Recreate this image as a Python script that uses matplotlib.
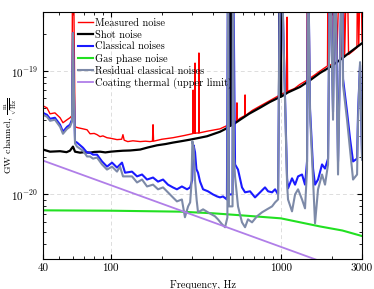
import numpy as np
import matplotlib
matplotlib.use('Agg')
import matplotlib.pyplot as plt

plt.rcParams['font.family'] = 'serif'
plt.rcParams['font.serif'] = ['cmr10', 'DejaVu Serif']
plt.rcParams['mathtext.fontset'] = 'cm'
plt.rcParams['axes.unicode_minus'] = False

TOP = 1e-18  # lines / spikes leaving the plot

# Shot noise
shot_f = [40, 44, 50.4, 55, 57.6, 60, 61.7, 66, 70, 75.6, 80, 86.5, 93, 100, 108, 118, 130, 149, 165, 187,
          210, 232, 260, 293, 330, 368, 400, 439, 470, 490, 496, 502, 508, 514, 520, 526, 576, 650, 754,
          860, 940, 975, 982, 990, 998, 1005, 1100, 1296, 1500, 1699, 1950, 2227, 2600, 3000]
shot_v = [2.31e-20, 2.22e-20, 2.24e-20, 2.2e-20, 2.26e-20, 2.44e-20, 2.22e-20, 2.18e-20, 2.2e-20, 2.18e-20,
          2.21e-20, 2.22e-20, 2.19e-20, 2.22e-20, 2.24e-20, 2.26e-20, 2.27e-20, 2.31e-20, 2.4e-20, 2.5e-20,
          2.56e-20, 2.63e-20, 2.7e-20, 2.78e-20, 2.87e-20, 2.96e-20, 3.08e-20, 3.22e-20, 3.38e-20, 3.5e-20,
          TOP, 3.58e-20, TOP, 3.62e-20, TOP, 3.7e-20, 4.03e-20, 4.5e-20, 5.04e-20,
          5.6e-20, 5.95e-20, 6.1e-20, TOP, 6.15e-20, TOP, 6.2e-20, 6.7e-20, 7.43e-20, 8.5e-20, 9.64e-20,
          1.08e-19, 1.23e-19, 1.45e-19, 1.68e-19]

# Measured noise
meas_f = [40, 42.2, 44, 47, 50.4, 52.4, 55.4, 57.6, 59.2, 59.7, 60.3, 61.7, 64.2, 68.7, 72.6, 75.6, 80,
          83.1, 86.5, 90, 95.1, 100, 108.9, 116, 118, 120, 126, 135, 149, 160, 170, 176, 177.3, 178.6,
          200, 232, 270, 301, 304, 305, 306, 312, 313, 314, 329, 330, 331, 368, 439, 480, 500, 540, 551,
          552, 553, 576, 614, 616, 618, 680, 754, 870, 989, 1080, 1088, 1096, 1200, 1296, 1420, 1430,
          1445, 1460, 1475, 1600, 1699, 1880, 1894, 1910, 2020, 2040, 2060, 2100, 2130, 2230, 2260,
          2320, 2370, 2450, 2500, 2650, 2800, 2830, 2870, 2950, 3000]
meas_v = [5.22e-20, 5.03e-20, 4.5e-20, 4.58e-20, 4.18e-20, 3.81e-20, 4.03e-20, 4.18e-20, 4.34e-20, TOP,
          TOP, 3.53e-20, 3.47e-20, 3.4e-20, 3.34e-20, 3.1e-20, 3.12e-20, 3.05e-20, 2.94e-20, 2.98e-20,
          2.88e-20, 2.85e-20, 2.78e-20, 2.8e-20, 3.05e-20, 2.75e-20, 2.68e-20, 2.72e-20, 2.68e-20, 2.7e-20,
          2.68e-20, 2.7e-20, 3.67e-20, 2.7e-20, 2.8e-20, 2.88e-20, 3.0e-20, 3.1e-20, 3.12e-20, 7.0e-20,
          3.12e-20, 3.14e-20, 1.16e-19, 3.14e-20, 3.15e-20, 1.4e-19, 3.15e-20, 3.25e-20, 3.4e-20, 3.6e-20,
          3.8e-20, 3.9e-20, 3.95e-20, 5.52e-20, 3.95e-20, 4.15e-20, 4.35e-20, 6.4e-20, 4.35e-20, 4.8e-20,
          5.2e-20, 5.8e-20, 6.4e-20, 6.8e-20, 2.73e-19, 6.85e-20, 7.2e-20, 7.8e-20, 8.4e-20, TOP,
          8.5e-20, TOP, 8.7e-20, 9.4e-20, 1.0e-19, 1.1e-19, TOP, 1.1e-19, 1.15e-19, TOP, 1.17e-19, TOP,
          1.2e-19, TOP, 1.27e-19, TOP, 1.3e-19, TOP, 1.36e-19, 1.45e-19, 1.55e-19, TOP, 1.6e-19, TOP,
          1.75e-19]

# Classical noises
cls_f = [40, 42.2, 44, 47, 50.4, 52.4, 55.4, 57.6, 59.2, 60.0, 60.9, 61.7, 63.4, 68.7, 72.6, 75.6, 78.7,
         83.1, 88.9, 95.1, 101.8, 108.9, 116.5, 121.4, 133.4, 142.8, 152.8, 163.5, 177.3, 189.7, 203, 217,
         232, 245, 262, 281, 293, 301, 307, 313, 319, 326, 335, 349, 373, 399, 422, 439, 457, 482, 489,
         495, 520, 524, 538, 560, 591, 616, 659, 705, 734, 807, 841, 888, 925, 963, 990, 1005, 1088,
         1102, 1163, 1212, 1262, 1332, 1387, 1425, 1445, 1484, 1546, 1588, 1654, 1746, 1818, 1894, 1945,
         2026, 2082, 2168, 2289, 2320, 2449, 2550, 2657, 2805, 2843, 2920, 3000]
cls_v = [4.58e-20, 4.42e-20, 4.1e-20, 4.18e-20, 3.67e-20, 3.22e-20, 3.53e-20, 3.67e-20, 4.03e-20, 2.03e-19,
         6.0e-20, 2.68e-20, 2.63e-20, 2.39e-20, 2.18e-20, 2.18e-20, 2.1e-20, 2.1e-20, 1.85e-20, 1.68e-20,
         1.81e-20, 1.65e-20, 1.81e-20, 1.5e-20, 1.53e-20, 1.4e-20, 1.45e-20, 1.32e-20, 1.37e-20, 1.27e-20,
         1.32e-20, 1.2e-20, 1.14e-20, 1.1e-20, 1.16e-20, 1.1e-20, 1.14e-20, 1.3e-20, 2.5e-20, 2.2e-20,
         1.6e-20, 1.5e-20, 1.27e-20, 1.1e-20, 1.06e-20, 1.0e-20, 9.63e-21, 9.46e-21, 9.63e-21, 9.1e-21,
         TOP, 1.0e-20, 1.0e-20, TOP, 1.75e-20, 1.59e-20, 1.14e-20, 1.04e-20, 1.06e-20, 9.46e-21, 1.0e-20,
         1.14e-20, 1.06e-20, 1.04e-20, 1.1e-20, 1.0e-20, TOP, TOP, 1.35e-20, 1.12e-20, 1.35e-20, 1.2e-20,
         1.4e-20, 1.45e-20, 1.2e-20, 1.85e-20, TOP, 4.94e-20, 1.62e-20, 1.2e-20, 1.32e-20, 1.75e-20,
         1.62e-20, 1.95e-20, TOP, 4.67e-20, TOP, 1.85e-20, TOP, 8.62e-20, 4.67e-20, 2.83e-20, 1.85e-20,
         1.95e-20, 4.67e-20, 1.12e-19, 2.1e-20]

# Gas phase noise
gas_f = [40, 100, 256, 400, 576, 1000, 1700, 2300, 3000]
gas_v = [7.43e-21, 7.38e-21, 7.25e-21, 7.03e-21, 6.78e-21, 6.4e-21, 5.5e-21, 5.1e-21, 4.6e-21]

# Residual classical noises
res_f = [40, 42.2, 44, 47, 50.4, 52.4, 55.4, 57.6, 59.2, 60.0, 60.9, 61.7, 63.4, 68.7, 72.6, 75.6, 78.7,
         83.1, 88.9, 95.1, 101.8, 108.9, 113.4, 118.1, 133.4, 142.8, 152.8, 163.5, 177.3, 189.7, 203, 223,
         232, 245, 262, 273, 285, 293, 298, 302, 307, 313, 320, 326, 349, 373, 410, 427, 451, 470, 485,
         489, 495, 520, 524, 530, 538, 560, 591, 616, 641, 677, 724, 775, 829, 888, 925, 963, 990, 1005,
         1088, 1102, 1163, 1212, 1262, 1332, 1387, 1425, 1445, 1484, 1546, 1588, 1654, 1746, 1818, 1894,
         1945, 2026, 2082, 2168, 2289, 2320, 2449, 2550, 2657, 2805, 2843, 2920, 3000]
res_v = [4.42e-20, 4.26e-20, 3.95e-20, 4.03e-20, 3.53e-20, 3.1e-20, 3.4e-20, 3.53e-20, 3.88e-20, 2.03e-19,
         5.8e-20, 2.58e-20, 2.44e-20, 2.26e-20, 2.03e-20, 2.03e-20, 1.95e-20, 1.99e-20, 1.75e-20, 1.59e-20,
         1.68e-20, 1.53e-20, 1.68e-20, 1.4e-20, 1.4e-20, 1.25e-20, 1.32e-20, 1.16e-20, 1.2e-20, 1.1e-20,
         1.14e-20, 1.0e-20, 9.46e-21, 8.78e-21, 9.1e-21, 6.53e-21, 8.0e-21, 8.62e-21, 1.2e-20, 2.7e-20,
         2.4e-20, 1.3e-20, 9.0e-21, 7.16e-21, 7.57e-21, 7.16e-21, 6.65e-21, 6.28e-21, 5.73e-21, 5.42e-21,
         6.5e-21, TOP, 8e-21, 8e-21, TOP, 2e-20, 1.4e-20, 8.0e-21, 5.94e-21, 5.42e-21, 6.28e-21, 5.94e-21,
         6.65e-21, 7.16e-21, 7.57e-21, 8.0e-21, 8.62e-21, 9.1e-21, TOP, TOP, 1.2e-20, 9.1e-21, 7.29e-21,
         1.0e-20, 1.1e-20, 9.1e-21, 7.71e-21, 1.59e-20, TOP, 4.42e-20, 1.32e-20, 5.83e-21, 1.1e-20,
         1.45e-20, 1.2e-20, 1.75e-20, TOP, 4.03e-20, TOP, 1.45e-20, TOP, 7.7e-20, 4.03e-20, 2.31e-20,
         1.32e-20, 1.45e-20, 4.03e-20, 1.18e-19, 1.91e-20]

# Coating thermal (upper limit)
coat_f = [40, 3000]
coat_v = [1.88e-20, 2.17e-21]

fig = plt.figure(figsize=(3.74, 2.89), dpi=100)
ax = fig.add_axes([0.115, 0.104, 0.853, 0.854])

ax.loglog(meas_f, meas_v, color='#ff0000', lw=1.0, label='Measured noise')
ax.loglog(shot_f, shot_v, color='black', lw=1.6, label='Shot noise')
ax.loglog(cls_f, cls_v, color='#1a1aff', lw=1.5, label='Classical noises')
ax.loglog(gas_f, gas_v, color='#22e022', lw=1.5, label='Gas phase noise')
ax.loglog(res_f, res_v, color='#7d8aa8', lw=1.5, label='Residual classical noises')
ax.loglog(coat_f, coat_v, color='#b07ee8', lw=1.3, label='Coating thermal (upper limit)')

ax.set_xlim(40, 3000)
ax.set_ylim(3e-21, 3e-19)
ax.set_xticks([40, 100, 1000, 3000], ['40', '100', '1000', '3000'])
ax.set_yticks([1e-20, 1e-19], [r'$10^{-20}$', r'$10^{-19}$'])
ax.tick_params(which='both', direction='in', top=True, right=True, labelsize=8)
ax.tick_params(which='major', length=3.5)
ax.tick_params(which='minor', length=2)
ax.grid(True, which='major', ls=(0, (4, 3)), color='#dddddd', lw=0.7)

ax.set_xlabel('Frequency, Hz', fontsize=7.5)
ax.xaxis.set_label_coords(0.5, -0.085)
ax.set_ylabel(r'GW channel, $\frac{\mathrm{m}}{\sqrt{\mathrm{Hz}}}$', fontsize=7)
ax.yaxis.set_label_coords(-0.075, 0.5)

ax.legend(loc='upper left', bbox_to_anchor=(0.09, 1.0), frameon=False, fontsize=7.5,
          handlelength=1.4, handletextpad=0.2, labelspacing=0.22, borderaxespad=0.2)

plt.savefig('out.png', dpi=100)
